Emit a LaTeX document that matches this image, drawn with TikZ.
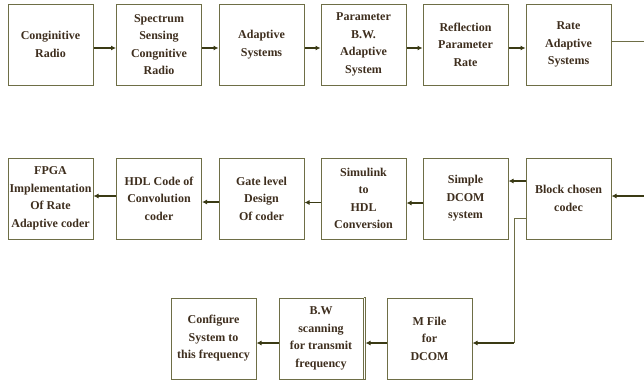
\documentclass[tikz,border=0pt]{standalone}
\usepackage{fontspec}
\setmainfont{Liberation Serif}
\usetikzlibrary{arrows.meta}
\definecolor{boxc}{RGB}{110,110,70}
\definecolor{arrc}{RGB}{58,58,20}
\definecolor{txtc}{RGB}{62,46,30}
\tikzset{
  blk/.style={draw=boxc, line width=1pt, minimum width=85pt, minimum height=81pt,
    inner sep=0pt, align=center, text=txtc,
    font=\fontsize{12}{17.5}\selectfont\bfseries},
  arr/.style={draw=arrc, line width=1.1pt, -{Latex[length=5pt,width=5pt]}},
  plain/.style={draw=boxc, line width=1pt}
}
\begin{document}
\begin{tikzpicture}[x=1pt,y=-1pt]
\useasboundingbox (0,0) rectangle (644,381);
% top row
\node[blk] (c1) at (50.5,44.5) {Conginitive\\Radio};
\node[blk] (c2) at (159,44.5) {Spectrum\\Sensing\\Congnitive\\Radio};
\node[blk] (c3) at (261.5,44.5) {Adaptive\\Systems};
\node[blk] (c4) at (363.5,44.5) {Parameter\\B.W.\\Adaptive\\System};
\node[blk] (c5) at (465.5,44.5) {Reflection\\Parameter\\Rate};
\node[blk] (c6) at (568.5,44.5) {Rate\\Adaptive\\Systems};
% middle row
\node[blk] (b1) at (50.5,198.5) {FPGA\\Implementation\\Of Rate\\Adaptive coder};
\node[blk] (b2) at (159,198.5) {HDL Code of\\Convolution\\coder};
\node[blk] (b3) at (261.5,198.5) {Gate level\\Design\\Of coder};
\node[blk] (b4) at (363.5,198.5) {Simulink\\to\\HDL\\Conversion};
\node[blk] (b5) at (465.5,198.5) {Simple\\DCOM\\system};
\node[blk] (b6) at (568.5,198.5) {Block chosen\\codec};
% bottom row
\node[blk] (m3) at (213.5,338.5) {Configure\\System to\\this frequency};
\node[blk, minimum width=84pt] (m2) at (321,338.5) {B.W\\scanning\\for transmit\\frequency};
\node[blk] (m1) at (429.5,338.5) {M File\\for\\DCOM};
\draw[plain] ([xshift=2pt]m2.north east) -- ([xshift=2pt]m2.south east);
\draw[plain] (m2.north east) -- ([xshift=2pt]m2.north east);
\draw[plain] (m2.south east) -- ([xshift=2pt]m2.south east);
% top arrows
\draw[arr] (c1.east |- 0,48) -- (c2.west |- 0,48);
\draw[arr] (c2.east |- 0,48) -- (c3.west |- 0,48);
\draw[arr] (c3.east |- 0,48) -- (c4.west |- 0,48);
\draw[arr] (c4.east |- 0,48) -- (c5.west |- 0,48);
\draw[arr] (c5.east |- 0,48) -- (c6.west |- 0,48);
\coordinate (rEdge) at (644,41);
\draw[plain] (c6.east |- rEdge) -- (rEdge);
% middle arrows
\coordinate (bEdge) at (644,196);
\draw[arr] (bEdge) -- (b6.east |- bEdge);
\draw[arr] (b6.west |- 0,181) -- (b5.east |- 0,181);
\draw[arr] (b5.west |- 0,203) -- (b4.east |- 0,203);
\draw[arr] (b4.west |- 0,202.5) -- (b3.east |- 0,202.5);
\draw[arr] (b3.west |- 0,202) -- (b2.east |- 0,202);
\draw[arr] (b2.west |- 0,196) -- (b1.east |- 0,196);
% branch down
\coordinate (t1) at (514,218);
\coordinate (t2) at (514,343);
\draw[plain] (b6.west |- t1) -- (t1) -- (t2);
\draw[arr] (t2) -- (m1.east |- t2);
% bottom arrows
\draw[arr] (m1.west |- 0,343) -- ([xshift=2pt]m2.east |- 0,343);
\draw[arr] (m2.west |- 0,343) -- (m3.east |- 0,343);
\end{tikzpicture}
\end{document}
